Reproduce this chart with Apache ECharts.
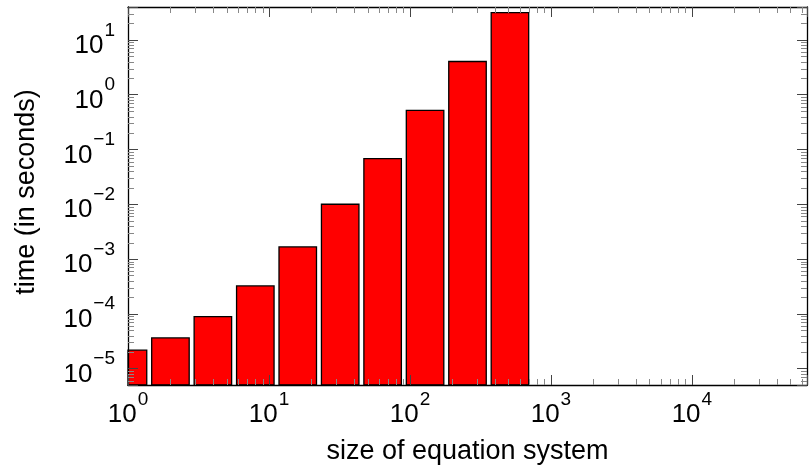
<!DOCTYPE html>
<html>
<head>
<meta charset="utf-8">
<script src="https://cdn.jsdelivr.net/npm/echarts@6/dist/echarts.min.js"></script>
<style>
  html, body { margin: 0; padding: 0; background: #fff; }
  #chart { width: 809px; height: 466px; }
</style>
</head>
<body>
<div id="chart"></div>
<script>
// problem sizes (powers of two) and measured time in seconds
const sizes = [1, 2, 4, 8, 16, 32, 64, 128, 256, 512];
const times = [2.16e-5, 3.62e-5, 8.9e-5, 3.23e-4, 1.66e-3, 1.0e-2, 6.83e-2, 0.52, 4.04, 31.6];

// axis ranges and labelled ticks
const xRange = [1, 65536];
const yRange = [5e-6, 40];
const xTicks = [1, 10, 100, 1000, 10000];
const yTicks = [1e-5, 1e-4, 1e-3, 1e-2, 1e-1, 1, 10];

const FONT = 'Liberation Sans';
const barSpan = Math.pow(10, 0.133); // bar half width as a factor on the log axis

// minor ticks at 2..9 times each decade
function minorTicks(range) {
  const out = [];
  const d0 = Math.floor(Math.log10(range[0]));
  const d1 = Math.ceil(Math.log10(range[1]));
  for (let d = d0; d <= d1; d++) {
    for (let m = 2; m <= 9; m++) {
      const v = m * Math.pow(10, d);
      if (v > range[0] && v < range[1]) out.push(v);
    }
  }
  return out;
}
const xMinor = minorTicks(xRange);
const yMinor = minorTicks(yRange);

function expOf(v) {
  const e = Math.log10(v);
  const r = Math.round(e);
  return Math.abs(e - r) < 1e-6 ? r : null;
}
function powLabel(ticks) {
  return function (v) {
    const e = expOf(v);
    if (e === null) return '';
    if (!ticks.some(t => expOf(t) === e)) return '';
    return '{b|10}{s|' + String(e).replace('-', '\u2212') + '}';
  };
}
// superscript sits at the top of the line box, base digits at the bottom
const labelRich = {
  b: { fontFamily: FONT, fontSize: 26, color: '#000', lineHeight: 38, verticalAlign: 'bottom' },
  s: { fontFamily: FONT, fontSize: 19, color: '#000', lineHeight: 19, verticalAlign: 'top', padding: [0, 0, 0, 1] }
};

const frame = { show: true, lineStyle: { color: '#000', width: 1.3 } };
const majorTick = { show: true, inside: true, length: 10, lineStyle: { color: '#444', width: 1 } };

const chart = echarts.init(document.getElementById('chart'), null, { renderer: 'canvas' });

const option = {
  animation: false,
  backgroundColor: '#fff',
  grid: { left: 128, right: 2, top: 7, bottom: 81, containLabel: false, outerBoundsMode: 'none' },
  xAxis: [
    {
      type: 'log', logBase: 10, min: xRange[0], max: xRange[1], position: 'bottom', z: 5,
      axisLine: frame, axisTick: majorTick, splitLine: { show: false },
      axisLabel: { formatter: powLabel(xTicks), rich: labelRich, margin: 5 },
      name: 'size of equation system', nameLocation: 'middle', nameGap: 52,
      nameTextStyle: { fontFamily: FONT, fontSize: 27, color: '#000', lineHeight: 30 }
    },
    {
      type: 'log', logBase: 10, min: xRange[0], max: xRange[1], position: 'top', z: 5,
      axisLine: frame, axisTick: majorTick, splitLine: { show: false }, axisLabel: { show: false }
    }
  ],
  yAxis: [
    {
      type: 'log', logBase: 10, min: yRange[0], max: yRange[1], position: 'left', z: 5,
      axisLine: frame, axisTick: majorTick, splitLine: { show: false },
      axisLabel: { formatter: powLabel(yTicks), rich: labelRich, margin: 13 },
      name: 'time (in seconds)', nameLocation: 'middle', nameGap: 86,
      nameTextStyle: { fontFamily: FONT, fontSize: 27, color: '#000', lineHeight: 30, padding: [0, 0, 0, 8] }
    },
    {
      type: 'log', logBase: 10, min: yRange[0], max: yRange[1], position: 'right', z: 5,
      axisLine: frame, axisTick: majorTick, splitLine: { show: false }, axisLabel: { show: false }
    }
  ],
  series: [
    {
      type: 'custom',
      name: 'time',
      z: 2,
      data: sizes.map((s, i) => [s, times[i]]),
      renderItem: function (params, api) {
        const x = api.value(0);
        const y = api.value(1);
        const p0 = api.coord([x / barSpan, yRange[0]]);
        const p1 = api.coord([x * barSpan, y]);
        const cs = params.coordSys;
        const shape = echarts.graphic.clipRectByRect(
          { x: p0[0], y: p1[1], width: p1[0] - p0[0], height: p0[1] - p1[1] },
          { x: cs.x, y: cs.y, width: cs.width, height: cs.height }
        );
        if (!shape) return;
        return {
          type: 'rect',
          shape: shape,
          style: { fill: '#ff0000', stroke: '#000', lineWidth: 1.3 }
        };
      }
    },
    {
      type: 'custom',
      name: 'xminor',
      silent: true,
      z: 6,
      data: xMinor.map(v => [v, yRange[0]]),
      renderItem: function (params, api) {
        const v = api.value(0);
        const b = api.coord([v, yRange[0]]);
        const t = api.coord([v, yRange[1]]);
        const x = Math.round(b[0]) + 0.5;
        const st = { stroke: '#888', lineWidth: 1 };
        return {
          type: 'group',
          children: [
            { type: 'line', shape: { x1: x, y1: b[1], x2: x, y2: b[1] - 6 }, style: st },
            { type: 'line', shape: { x1: x, y1: t[1], x2: x, y2: t[1] + 6 }, style: st }
          ]
        };
      }
    },
    {
      type: 'custom',
      name: 'yminor',
      silent: true,
      z: 6,
      data: yMinor.map(v => [xRange[0], v]),
      renderItem: function (params, api) {
        const v = api.value(1);
        const l = api.coord([xRange[0], v]);
        const r = api.coord([xRange[1], v]);
        const y = Math.round(l[1]) + 0.5;
        const st = { stroke: '#888', lineWidth: 1 };
        return {
          type: 'group',
          children: [
            { type: 'line', shape: { x1: l[0], y1: y, x2: l[0] + 6, y2: y }, style: st },
            { type: 'line', shape: { x1: r[0], y1: y, x2: r[0] - 6, y2: y }, style: st }
          ]
        };
      }
    }
  ]
};

chart.setOption(option);
</script>
</body>
</html>
